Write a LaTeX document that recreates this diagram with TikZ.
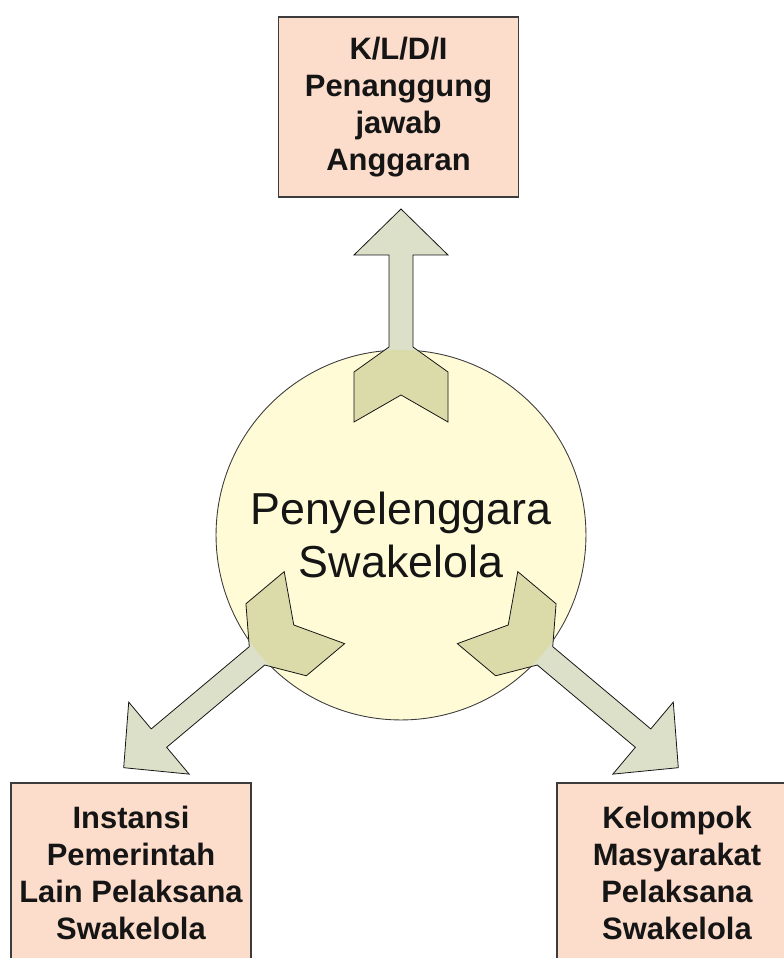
\documentclass[tikz,border=0pt]{standalone}
\usepackage{fontspec}
\setmainfont{Liberation Sans}
\definecolor{ink}{HTML}{151515}
\definecolor{rim}{HTML}{3C3C3C}
\definecolor{peach}{HTML}{FCDCCB}
\definecolor{lemon}{HTML}{FFFBD6}
\definecolor{sage}{HTML}{DCE0C9}
\definecolor{moss}{HTML}{DBDBAA}

% block arrow pointing up from the hub centre, #1 = distance of the head base
\newcommand\fletchpath[1]{(0,{#1+46}) -- (47,#1) -- (12,#1) -- (12,188)
  -- (47,163) -- (47,113) -- (0,140) -- (-47,113) -- (-47,163)
  -- (-12,188) -- (-12,#1) -- (-47,#1) -- cycle}

\begin{document}
\begin{tikzpicture}[
  x=0.02cm,
  y=0.02cm,
  line join=miter,
  every node/.style={
    align=center,
    text=ink,
  },
  unitbox/.style={
    draw=rim,
    fill=peach,
    line width=0.8pt,
    minimum width=4.8cm,
    minimum height=3.6cm,
    inner sep=0pt,
    font=\bfseries\fontsize{17.6}{21.2}\selectfont,
  },
  hubnode/.style={
    circle,
    draw=rim,
    fill=lemon,
    line width=0.5pt,
    minimum size=7.4cm,
    inner sep=0pt,
    font=\fontsize{25.5}{30.6}\selectfont,
  },
  fletch/.pic={
    \fill[sage] \fletchpath{#1};
    \begin{scope}
      \clip (0,0) circle (185);
      \fill[moss] \fletchpath{#1};
    \end{scope}
    \draw[ink, line width=0.45pt] \fletchpath{#1};
  },
]
\useasboundingbox (0,0) rectangle (784,958);

% --- nodes ---
\node[unitbox] (kldi) at (398.5,851) {
  K/L/D/I\\
  Penanggung\\
  jawab\\
  Anggaran
};

\node[unitbox] (ipl) at (131,85) {
  Instansi\\
  Pemerintah\\
  Lain Pelaksana\\
  Swakelola
};

\node[unitbox] (kmp) at (677,85) {
  Kelompok\\
  Masyarakat\\
  Pelaksana\\
  Swakelola
};

\node[hubnode] (hub) at (401,423) {Penyelenggara\\Swakelola};

% --- arrows ---
\pic at (hub.center) {fletch=280};
\pic[rotate=130] at (hub.center) {fletch=316};
\pic[rotate=-130] at (hub.center) {fletch=316};

\end{tikzpicture}
\end{document}
